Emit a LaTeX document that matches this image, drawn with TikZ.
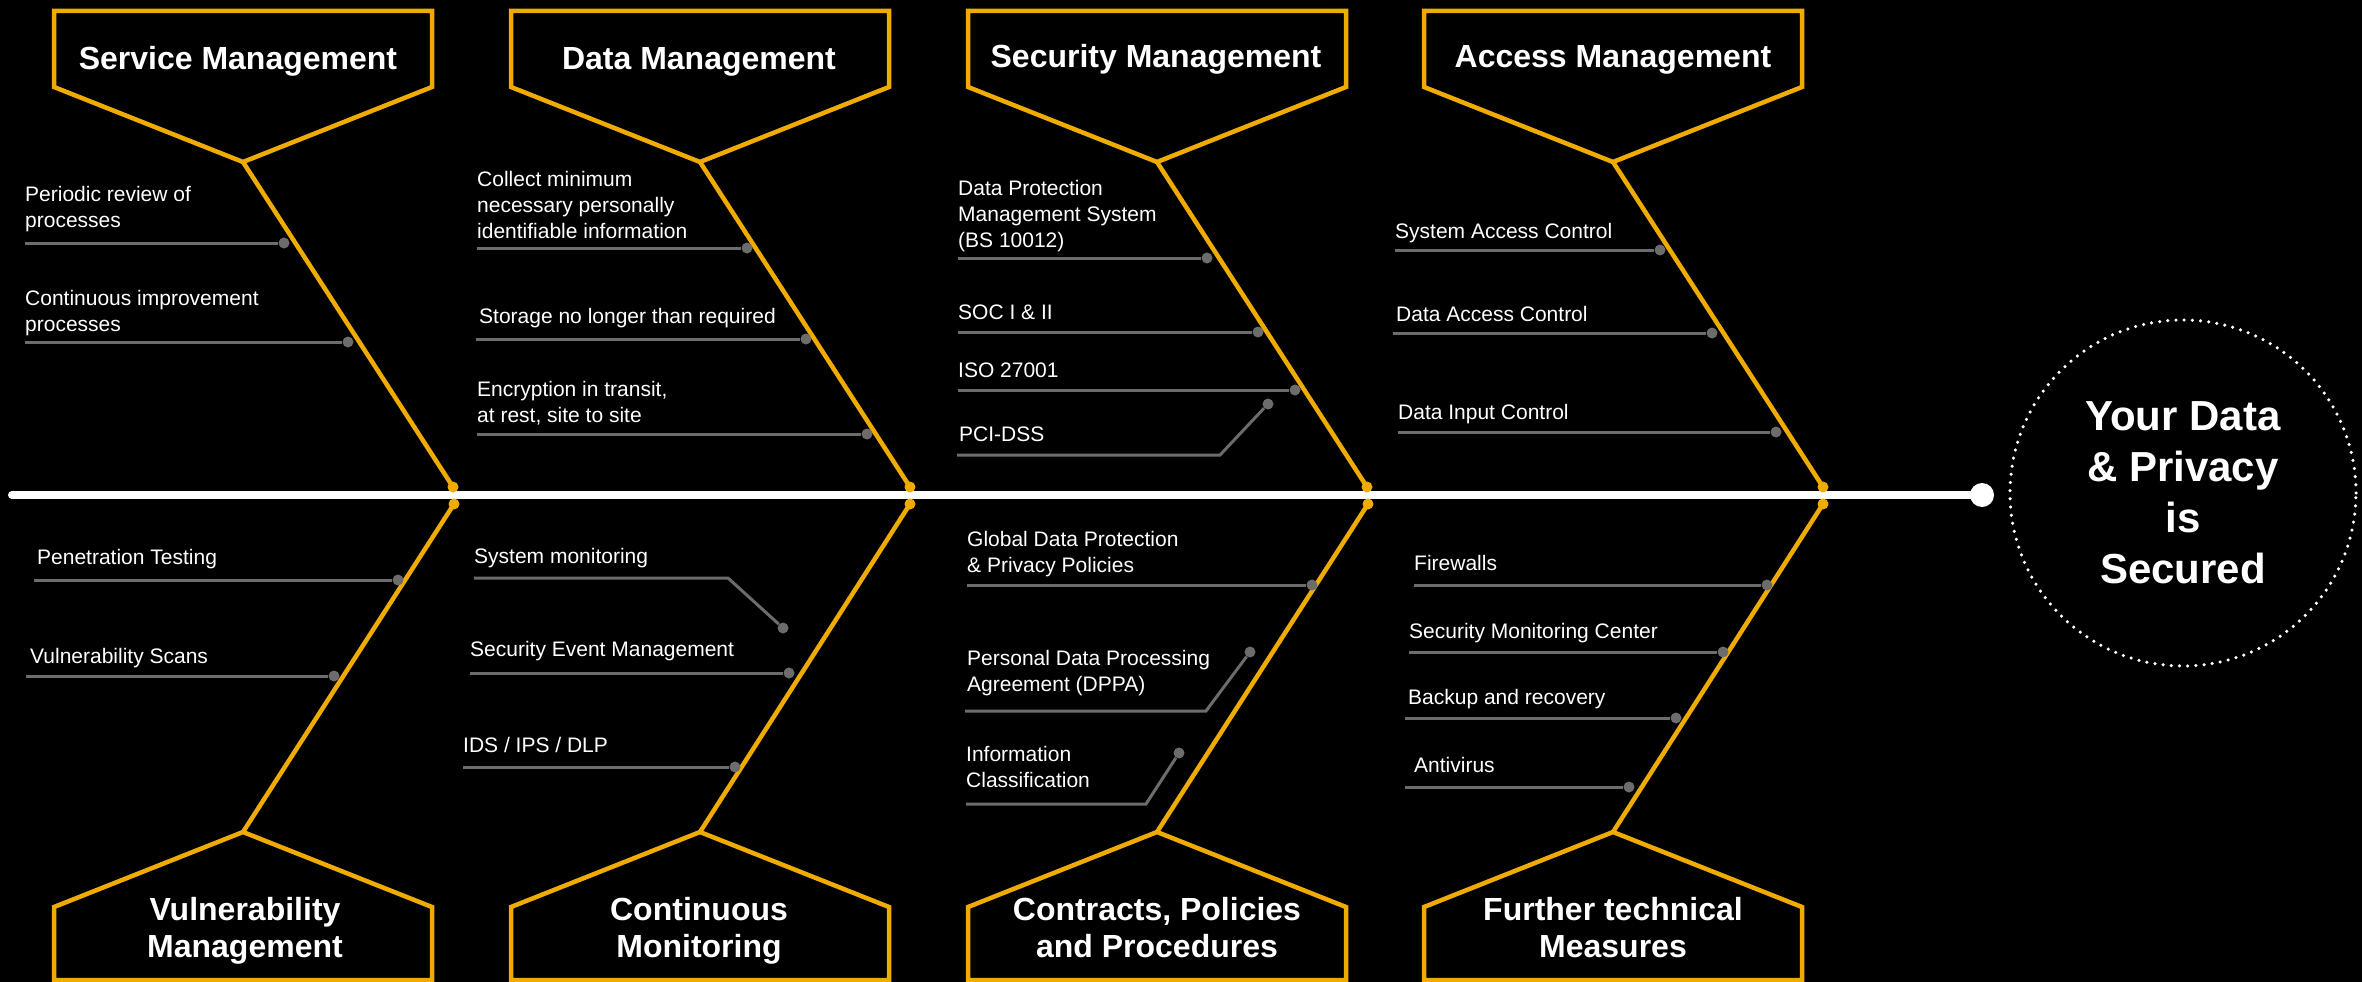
\documentclass[tikz,border=0pt]{standalone}
\usepackage{fontspec}
\setmainfont{Liberation Sans}
\definecolor{orng}{RGB}{240,171,0}
\definecolor{gry}{RGB}{108,108,108}
\newcommand{\mlinel}[1]{\begin{tabular}[t]{@{}l@{}}#1\end{tabular}}
\newcommand{\mlinec}[1]{\begin{tabular}[t]{@{}c@{}}#1\end{tabular}}
\begin{document}
\begin{tikzpicture}[x=1pt,y=-1pt,
  box/.style={draw=orng, line width=4.5pt, line join=miter},
  bone/.style={draw=orng, line width=4.5pt},
  jdot/.style={circle, fill=orng, inner sep=0pt, minimum size=11pt},
  leaf/.style={draw=gry, line width=3pt},
  ldot/.style={circle, fill=gry, inner sep=0pt, minimum size=11pt},
  item/.style={anchor=base west, inner sep=0pt, text=white, font=\fontsize{21}{26}\selectfont},
  ttl/.style={anchor=base, inner sep=0pt, text=white, font=\bfseries\fontsize{32}{37}\selectfont},
  goalstyle/.style={circle, draw=white, line width=3.5pt, dash pattern=on 0pt off 8.2pt, line cap=round,
     minimum size=346pt, inner sep=0pt, text=white, align=center, font=\bfseries\fontsize{42}{51}\selectfont}
]
\fill[black] (0,0) rectangle (2362,982);
\useasboundingbox (0,0) rectangle (2362,982);

% ---------- main line and goal ----------
\coordinate (lineStart) at (12,495);
\node[circle, fill=white, inner sep=0pt, minimum size=24pt] (endDot) at (1982,495) {};
\draw[white, line width=8pt, line cap=round] (lineStart) -- (endDot.center);
\node[goalstyle] (goal) at (2183,493) {Your Data\\\& Privacy\\is\\Secured};

% ---------- top boxes ----------
\draw[box] (54,11) -- (432,11) -- (432,87) -- (243,162) -- (54,87) -- cycle;
\draw[box] (511,11) -- (889,11) -- (889,87) -- (700,162) -- (511,87) -- cycle;
\draw[box] (968,11) -- (1346,11) -- (1346,87) -- (1157,162) -- (968,87) -- cycle;
\draw[box] (1424,11) -- (1802,11) -- (1802,87) -- (1613,162) -- (1424,87) -- cycle;
\node[ttl] (tS) at (238,70) {Service Management};
\node[ttl] (tD) at (699,70) {Data Management};
\node[ttl] (tC) at (1156,68) {Security Management};
\node[ttl] (tA) at (1613,68) {Access Management};

% ---------- bottom boxes ----------
\draw[box] (54,980) -- (54,907) -- (243,832) -- (432,907) -- (432,980) -- cycle;
\draw[box] (511,980) -- (511,907) -- (700,832) -- (889,907) -- (889,980) -- cycle;
\draw[box] (968,980) -- (968,907) -- (1157,832) -- (1346,907) -- (1346,980) -- cycle;
\draw[box] (1424,980) -- (1424,907) -- (1613,832) -- (1802,907) -- (1802,980) -- cycle;
\node[ttl] (bV) at (245,920) {\mlinec{Vulnerability\\Management}};
\node[ttl] (bM) at (699,920) {\mlinec{Continuous\\Monitoring}};
\node[ttl] (bP) at (1157,920) {\mlinec{Contracts, Policies\\and Procedures}};
\node[ttl] (bF) at (1613,920) {\mlinec{Further technical\\Measures}};

% ---------- bones ----------
\coordinate (apS) at (243,162); \coordinate (apD) at (700,162);
\coordinate (apC) at (1157,162); \coordinate (apA) at (1613,162);
\coordinate (apV) at (243,832); \coordinate (apM) at (700,832);
\coordinate (apP) at (1157,832); \coordinate (apF) at (1613,832);
\node[jdot] (jS) at (453,487) {}; \node[jdot] (jD) at (910,487) {};
\node[jdot] (jC) at (1367,487) {}; \node[jdot] (jA) at (1823,487) {};
\node[jdot] (jV) at (454,504) {}; \node[jdot] (jM) at (910,504) {};
\node[jdot] (jP) at (1368,504) {}; \node[jdot] (jF) at (1823,504) {};
\foreach \a/\b in {apS/jS,apD/jD,apC/jC,apA/jA,apV/jV,apM/jM,apP/jP,apF/jF}
  \draw[bone] (\a) -- (\b.center);

% ---------- Service Management ----------
\node[item] (i1) at (25,201) {\mlinel{Periodic review of\\processes}};
\node[ldot] (d1) at (284,243) {};
\draw[leaf] (i1.west |- d1) -- (d1);
\node[item] (i2) at (25,305) {\mlinel{Continuous improvement\\processes}};
\node[ldot] (d2) at (348,342) {};
\draw[leaf] (i2.west |- d2) -- (d2);

% ---------- Data Management ----------
\node[item] (i3) at (477,186) {\mlinel{Collect minimum\\necessary personally\\identifiable information}};
\node[ldot] (d3) at (747,248) {};
\draw[leaf] (i3.west |- d3) -- (d3);
\node[item] (i4) at (479,323) {Storage no longer than required};
\node[ldot] (d4) at (806,339) {};
\draw[leaf] ([xshift=-3pt]i4.west |- d4) -- (d4);
\node[item] (i5) at (477,396) {\mlinel{Encryption in transit,\\at rest, site to site}};
\node[ldot] (d5) at (867,434) {};
\draw[leaf] (i5.west |- d5) -- (d5);

% ---------- Security Management ----------
\node[item] (i6) at (958,195) {\mlinel{Data Protection\\Management System\\(BS 10012)}};
\node[ldot] (d6) at (1207,258) {};
\draw[leaf] (i6.west |- d6) -- (d6);
\node[item] (i7) at (958,319) {SOC I \& II};
\node[ldot] (d7) at (1258,332) {};
\draw[leaf] (i7.west |- d7) -- (d7);
\node[item] (i8) at (958,377) {ISO 27001};
\node[ldot] (d8) at (1295,390) {};
\draw[leaf] (i8.west |- d8) -- (d8);
\node[item] (i9) at (959,441) {PCI-DSS};
\node[ldot] (d9) at (1268,404) {};
\coordinate (e9) at (1220,455);
\draw[leaf] ([xshift=-2pt]i9.west |- e9) -- (e9) -- (d9);

% ---------- Access Management ----------
\node[item] (i10) at (1395,238) {System Access Control};
\node[ldot] (d10) at (1660,250) {};
\draw[leaf] (i10.west |- d10) -- (d10);
\node[item] (i11) at (1396,321) {Data Access Control};
\node[ldot] (d11) at (1712,333) {};
\draw[leaf] ([xshift=-3pt]i11.west |- d11) -- (d11);
\node[item] (i12) at (1398,419) {Data Input Control};
\node[ldot] (d12) at (1776,432) {};
\draw[leaf] (i12.west |- d12) -- (d12);

% ---------- Vulnerability Management ----------
\node[item] (i13) at (37,564) {Penetration Testing};
\node[ldot] (d13) at (398,580) {};
\draw[leaf] ([xshift=-3pt]i13.west |- d13) -- (d13);
\node[item] (i14) at (30,663) {Vulnerability Scans};
\node[ldot] (d14) at (334,676) {};
\draw[leaf] ([xshift=-4pt]i14.west |- d14) -- (d14);

% ---------- Continuous Monitoring ----------
\node[item] (i15) at (474,563) {System monitoring};
\node[ldot] (d15) at (783,628) {};
\coordinate (e15) at (728,578);
\draw[leaf] (i15.west |- e15) -- (e15) -- (d15);
\node[item] (i16) at (470,656) {Security Event Management};
\node[ldot] (d16) at (789,673) {};
\draw[leaf] (i16.west |- d16) -- (d16);
\node[item] (i17) at (463,752) {IDS / IPS / DLP};
\node[ldot] (d17) at (735,767) {};
\draw[leaf] (i17.west |- d17) -- (d17);

% ---------- Contracts, Policies and Procedures ----------
\node[item] (i18) at (967,546) {\mlinel{Global Data Protection\\\& Privacy Policies}};
\node[ldot] (d18) at (1312,585) {};
\draw[leaf] (i18.west |- d18) -- (d18);
\node[item] (i19) at (967,665) {\mlinel{Personal Data Processing\\Agreement (DPPA)}};
\node[ldot] (d19) at (1250,652) {};
\coordinate (e19) at (1206,711);
\draw[leaf] ([xshift=-2pt]i19.west |- e19) -- (e19) -- (d19);
\node[item] (i20) at (966,761) {\mlinel{Information\\Classification}};
\node[ldot] (d20) at (1179,753) {};
\coordinate (e20) at (1146,804);
\draw[leaf] (i20.west |- e20) -- (e20) -- (d20);

% ---------- Further technical Measures ----------
\node[item] (i21) at (1414,570) {Firewalls};
\node[ldot] (d21) at (1767,585) {};
\draw[leaf] (i21.west |- d21) -- (d21);
\node[item] (i22) at (1409,638) {Security Monitoring Center};
\node[ldot] (d22) at (1723,652) {};
\draw[leaf] (i22.west |- d22) -- (d22);
\node[item] (i23) at (1408,704) {Backup and recovery};
\node[ldot] (d23) at (1676,718) {};
\draw[leaf] ([xshift=-3pt]i23.west |- d23) -- (d23);
\node[item] (i24) at (1414,772) {Antivirus};
\node[ldot] (d24) at (1629,787) {};
\draw[leaf] ([xshift=-9pt]i24.west |- d24) -- (d24);
\end{tikzpicture}
\end{document}
